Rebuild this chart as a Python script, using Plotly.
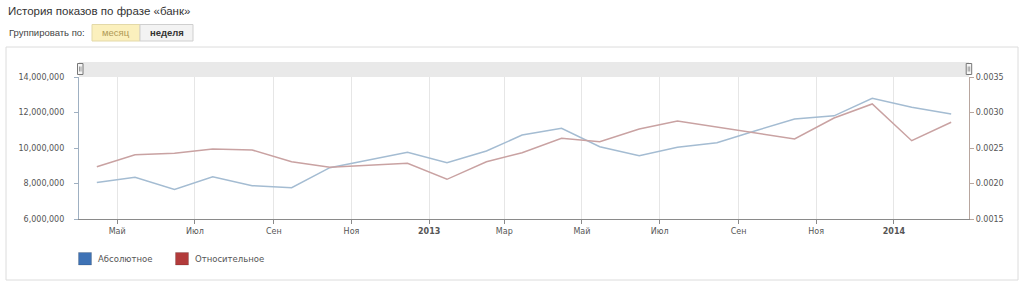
import plotly.graph_objects as go

# ---- data ----
months = ["2012-04-15", "2012-05-15", "2012-06-15", "2012-07-15", "2012-08-15", "2012-09-15",
          "2012-10-15", "2012-11-15", "2012-12-15", "2013-01-15", "2013-02-15", "2013-03-15",
          "2013-04-15", "2013-05-15", "2013-06-15", "2013-07-15", "2013-08-15", "2013-09-15",
          "2013-10-15", "2013-11-15", "2013-12-15", "2014-01-15", "2014-02-15"]
absolute = [8050000, 8350000, 7670000, 8380000, 7880000, 7760000,
            8890000, 9320000, 9760000, 9170000, 9830000, 10730000,
            11110000, 10070000, 9570000, 10040000, 10300000, 10990000,
            11630000, 11810000, 12800000, 12290000, 11920000]
relative = [0.002237, 0.002406, 0.002425, 0.002486, 0.002472, 0.002307,
            0.002228, 0.002261, 0.002284, 0.002059, 0.002307, 0.002434,
            0.002637, 0.002589, 0.002768, 0.002880, 0.002796, 0.002718,
            0.002627, 0.002923, 0.003120, 0.002603, 0.002862]
tick_dates = ["2012-05-01", "2012-07-01", "2012-09-01", "2012-11-01", "2013-01-01", "2013-03-01",
              "2013-05-01", "2013-07-01", "2013-09-01", "2013-11-01", "2014-01-01"]
tick_labels = ["Май", "Июл", "Сен", "Ноя", "<b>2013</b>", "Мар",
               "Май", "Июл", "Сен", "Ноя", "<b>2014</b>"]
left_ticks = [6000000, 8000000, 10000000, 12000000, 14000000]
right_ticks = [0.0015, 0.0020, 0.0025, 0.0030, 0.0035]
series_names = ["Абсолютное", "Относительное"]

# ---- geometry ----
W, H = 1024, 282
L, R, T, B = 79, 969, 77, 219


def px(x):
    return (x - L) / (R - L)


def py(y):
    return (B - y) / (B - T)


fig = go.Figure()
fig.add_trace(go.Scatter(x=months, y=absolute, mode="lines", yaxis="y",
                         line=dict(color="#a4bcd2", width=1.5), showlegend=False,
                         hoverinfo="skip"))
fig.add_trace(go.Scatter(x=months, y=relative, mode="lines", yaxis="y2",
                         line=dict(color="#c9a2a2", width=1.5), showlegend=False,
                         hoverinfo="skip"))

tickfont = dict(family="DejaVu Sans", size=8, color="#555555")
shapes = []
annotations = []

# outer panel
shapes.append(dict(type="rect", xref="paper", yref="paper", x0=px(6), x1=px(1018),
                   y0=py(47), y1=py(280), line=dict(color="#dcdcdc", width=1),
                   fillcolor="rgba(0,0,0,0)", layer="below"))
# navigator band
shapes.append(dict(type="rect", xref="paper", yref="paper", x0=px(79), x1=px(969),
                   y0=py(77), y1=py(62), line=dict(width=0), fillcolor="#e9e9e9",
                   layer="below"))
# handles
for hx in (77.5, 966.2):
    shapes.append(dict(type="rect", xref="paper", yref="paper", x0=px(hx), x1=px(hx + 5.5),
                       y0=py(74.5), y1=py(63.5), line=dict(color="#777777", width=1),
                       fillcolor="#f5f5f5"))
    for dx in (2, 3.5):
        shapes.append(dict(type="line", xref="paper", yref="paper", x0=px(hx + dx),
                           x1=px(hx + dx), y0=py(66.5), y1=py(71.5),
                           line=dict(color="#777777", width=0.7)))

# buttons
shapes.append(dict(type="rect", xref="paper", yref="paper", x0=px(92), x1=px(140),
                   y0=py(41), y1=py(24.5), line=dict(color="#e3d9a8", width=1),
                   fillcolor="#fbf0bd"))
shapes.append(dict(type="rect", xref="paper", yref="paper", x0=px(140), x1=px(193),
                   y0=py(41), y1=py(24.5), line=dict(color="#cfcfcf", width=1),
                   fillcolor="#f3f3f3"))

# legend squares
for x0, col in ((78.5, "#3e72b5"), (175.5, "#b23b3b")):
    shapes.append(dict(type="rect", xref="paper", yref="paper", x0=px(x0), x1=px(x0 + 13),
                       y0=py(265), y1=py(252.5), line=dict(color="rgba(0,0,0,0.15)", width=1),
                       fillcolor=col))
annotations.append(dict(text=series_names[0], xref="paper", yref="paper", x=px(96), y=py(258.5),
                        xanchor="left", yanchor="middle", showarrow=False,
                        font=dict(family="DejaVu Sans", size=8.5, color="#555555")))
annotations.append(dict(text=series_names[1], xref="paper", yref="paper", x=px(192.5), y=py(258.5),
                        xanchor="left", yanchor="middle", showarrow=False,
                        font=dict(family="DejaVu Sans", size=8.5, color="#555555")))

# header texts
annotations.append(dict(text="История показов по фразе «банк»", xref="paper", yref="paper",
                        x=px(6), y=py(10.5), xanchor="left", yanchor="middle", showarrow=False,
                        font=dict(family="Liberation Sans", size=11.5, color="#333333")))
annotations.append(dict(text="Группировать по:", xref="paper", yref="paper",
                        x=px(6.5), y=py(33), xanchor="left", yanchor="middle", showarrow=False,
                        font=dict(family="Liberation Sans", size=9.5, color="#444444")))
annotations.append(dict(text="месяц", xref="paper", yref="paper",
                        x=px(116), y=py(33), xanchor="center", yanchor="middle", showarrow=False,
                        font=dict(family="Liberation Sans", size=9.5, color="#b09a55")))
annotations.append(dict(text="<b>неделя</b>", xref="paper", yref="paper",
                        x=px(166.5), y=py(33), xanchor="center", yanchor="middle", showarrow=False,
                        font=dict(family="Liberation Sans", size=9.5, color="#333333")))

fig.update_layout(
    width=W, height=H, autosize=False,
    margin=dict(l=L, r=W - R, t=T, b=H - B, pad=0),
    paper_bgcolor="white", plot_bgcolor="white",
    showlegend=False,
    xaxis=dict(type="date", range=["2012-04-01", "2014-03-01"], tickmode="array",
               tickvals=tick_dates, ticktext=tick_labels, showgrid=True,
               gridcolor="#e6e6e6", gridwidth=1, showline=True, linecolor="#8a8a8a",
               linewidth=1.2, ticks="outside", ticklen=4, tickcolor="#8a8a8a",
               tickfont=tickfont, zeroline=False, fixedrange=True),
    yaxis=dict(range=[6000000, 14000000], tickmode="array", tickvals=left_ticks,
               tickformat=",", showgrid=False, zeroline=False, showline=True,
               linecolor="#9fb0c2", linewidth=1.2, ticks="outside", ticklen=4,
               tickcolor="#9fb0c2", tickfont=tickfont, ticklabelstandoff=8,
               fixedrange=True),
    yaxis2=dict(range=[0.0015, 0.0035], tickmode="array", tickvals=right_ticks,
                tickformat=".4f", overlaying="y", side="right", showgrid=False,
                zeroline=False, showline=True, linecolor="#b8a69e", linewidth=1.2,
                ticks="outside", ticklen=4, tickcolor="#b8a69e", tickfont=tickfont,
                fixedrange=True),
    shapes=shapes,
    annotations=annotations,
)

fig.write_html("out.html", config={"displayModeBar": False})
